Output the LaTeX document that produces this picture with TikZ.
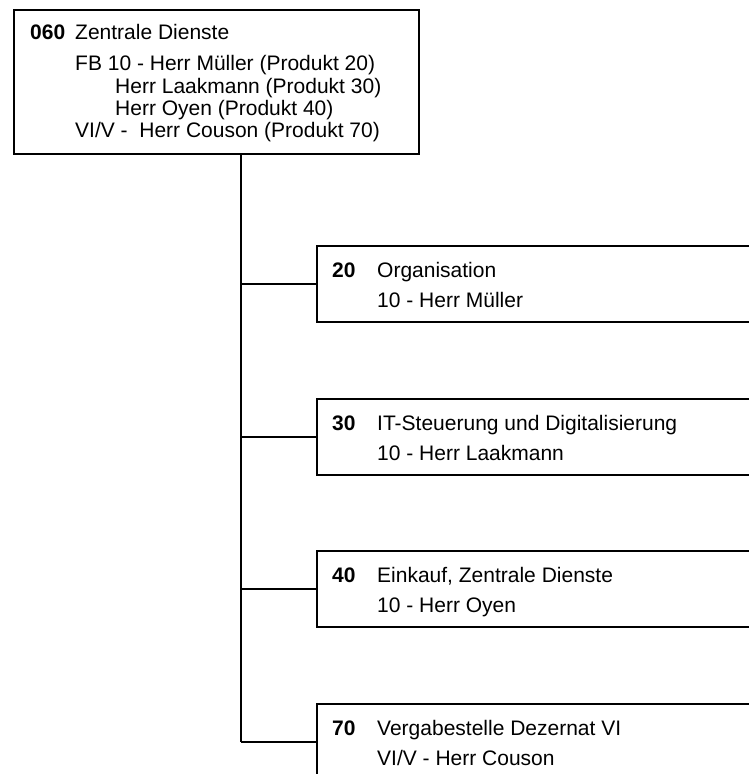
\documentclass[tikz,border=0pt]{standalone}
\usepackage{fontspec}
\setmainfont{Liberation Sans}
\tikzset{
  box/.style={draw, line width=2.4pt, inner sep=0pt, anchor=north west},
  unitbox/.style={box, minimum width=470pt, minimum height=76pt},
  txt/.style={anchor=base west, inner sep=0pt, font=\fontsize{21pt}{25pt}\selectfont},
  num/.style={txt, font=\fontsize{21pt}{25pt}\selectfont\bfseries},
  link/.style={line width=2.4pt}
}
\begin{document}
\begin{tikzpicture}[x=1pt,y=1pt]
\useasboundingbox (0,0) rectangle (749,-774);
\clip (0,0) rectangle (749,-774);

% head unit
\node[box, minimum width=405pt, minimum height=144pt] (top) at (13,-9) {};
\node[num] (t0) at (30,-39.5) {060};
\node[txt] (t1) at (75,-39.5) {Zentrale Dienste};
\node[txt] (t2) at (75,-70) {FB 10 - Herr Müller (Produkt 20)};
\node[txt] (t3) at (115,-93.5) {Herr Laakmann (Produkt 30)};
\node[txt] (t4) at (115,-115) {Herr Oyen (Produkt 40)};
\node[txt] (t5) at (75,-137) {VI/V -\ \ Herr Couson (Produkt 70)};

% product units
\node[unitbox] (b20) at (316,-245) {};
\node[num] (n20) at (332,-277) {20};
\node[txt] (a20) at (377,-277) {Organisation};
\node[txt] (p20) at (377,-307) {10 - Herr Müller};

\node[unitbox] (b30) at (316,-398) {};
\node[num] (n30) at (332,-430) {30};
\node[txt] (a30) at (377,-430) {IT-Steuerung und Digitalisierung};
\node[txt] (p30) at (377,-460) {10 - Herr Laakmann};

\node[unitbox] (b40) at (316,-550) {};
\node[num] (n40) at (332,-582) {40};
\node[txt] (a40) at (377,-582) {Einkauf, Zentrale Dienste};
\node[txt] (p40) at (377,-612) {10 - Herr Oyen};

\node[unitbox] (b70) at (316,-703) {};
\node[num] (n70) at (332,-735) {70};
\node[txt] (a70) at (377,-735) {Vergabestelle Dezernat VI};
\node[txt] (p70) at (377,-765) {VI/V - Herr Couson};

% tree connectors
\coordinate (tk) at (241,0);
\draw[link] (tk |- top.south) -- (tk |- b70.west);
\draw[link] (tk |- b20.west) -- (b20.west);
\draw[link] (tk |- b30.west) -- (b30.west);
\draw[link] (tk |- b40.west) -- (b40.west);
\draw[link] (tk |- b70.west) -- (b70.west);
\end{tikzpicture}
\end{document}
